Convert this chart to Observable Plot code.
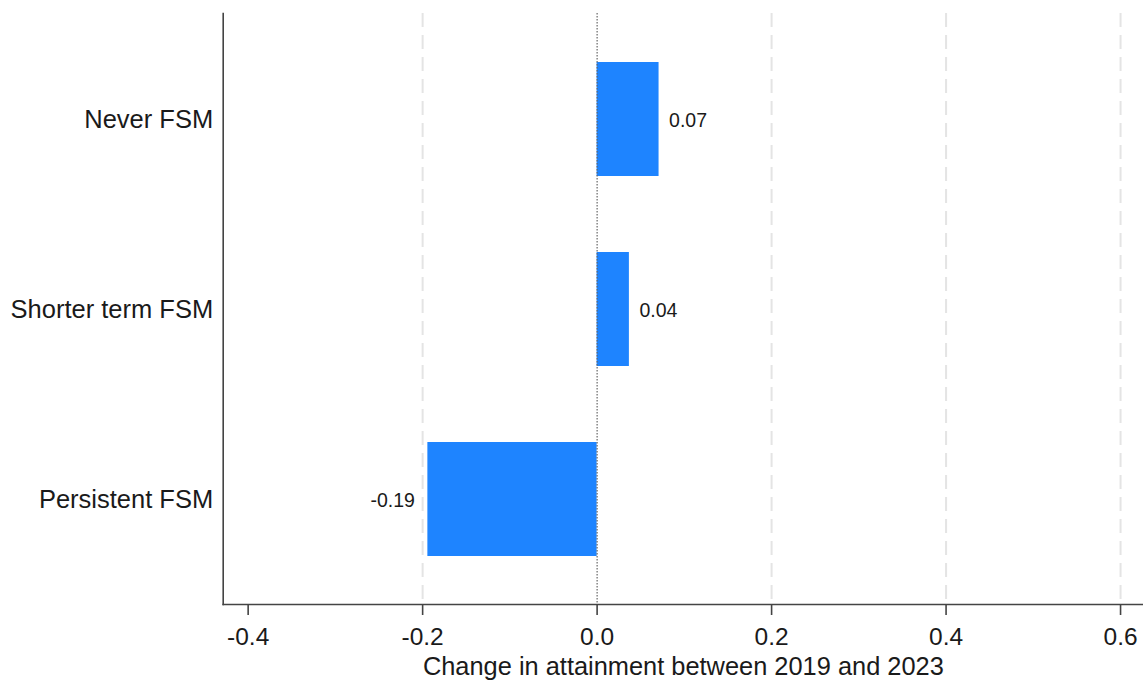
<!DOCTYPE html>
<html>
<head>
<meta charset="utf-8">
<script src="https://cdn.jsdelivr.net/npm/d3@7"></script>
<script src="https://cdn.jsdelivr.net/npm/@observablehq/plot@0.6"></script>
<style>
  html, body { margin: 0; padding: 0; background: #fff; }
  #chart { width: 1143px; height: 682px; }
</style>
</head>
<body>
<div id="chart"></div>
<script>
const categories = ["Never FSM", "Shorter term FSM", "Persistent FSM"];
const values = [0.071, 0.037, -0.194];
const valueLabels = ["0.07", "0.04", "-0.19"];
const xTicks = [-0.4, -0.2, 0.0, 0.2, 0.4, 0.6];
const gridTicks = [-0.2, 0.2, 0.4, 0.6];
const xTitle = "Change in attainment between 2019 and 2023";

const data = categories.map((c, i) => ({cat: c, value: values[i], label: valueLabels[i]}));
const pos = data.filter(d => d.value >= 0);
const neg = data.filter(d => d.value < 0);

const font = "'Liberation Sans', Arial, Helvetica, sans-serif";

const chart = Plot.plot({
  width: 1143,
  height: 682,
  marginLeft: 222.7,
  marginRight: 0,
  marginTop: 13,
  marginBottom: 78,
  style: {fontFamily: font, color: "#1a1a1a", background: "#fff"},
  x: {domain: [-0.4286, 0.6263]},
  y: {domain: categories, paddingInner: 0.4, paddingOuter: 0.25},
  marks: [
    Plot.gridX(gridTicks, {stroke: "#e4e4e4", strokeOpacity: 1, strokeWidth: 2, strokeDasharray: "14,8"}),
    Plot.barX(data, {x: "value", y: "cat", fill: "#1e84ff"}),
    Plot.ruleX([0], {stroke: "#666", strokeWidth: 1.2, strokeDasharray: "1.5,1.5"}),
    Plot.text(pos, {x: "value", y: "cat", text: "label", textAnchor: "start", dx: 10, dy: 1.5, fontSize: 19.5, fill: "#1a1a1a"}),
    Plot.text(neg, {x: "value", y: "cat", text: "label", textAnchor: "end", dx: -13, dy: 1, fontSize: 19.5, fill: "#1a1a1a"}),
    Plot.frame({anchor: "left", stroke: "#444", strokeWidth: 1.6}),
    Plot.frame({anchor: "bottom", stroke: "#444", strokeWidth: 1.6}),
    Plot.axisX({
      ticks: xTicks,
      tickFormat: d => d.toFixed(1),
      tickSize: 11,
      tickPadding: 12,
      fontSize: 24.5,
      stroke: "#444",
      strokeWidth: 1.6,
      label: null
    }),
    Plot.axisX({
      ticks: [],
      fontSize: 25.4,
      label: xTitle,
      labelAnchor: "center",
      labelArrow: "none",
      labelOffset: 70
    }),
    Plot.axisY({tickSize: 0, tickPadding: 10, fontSize: 25.5, label: null})
  ]
});
document.getElementById("chart").appendChild(chart);
</script>
</body>
</html>
